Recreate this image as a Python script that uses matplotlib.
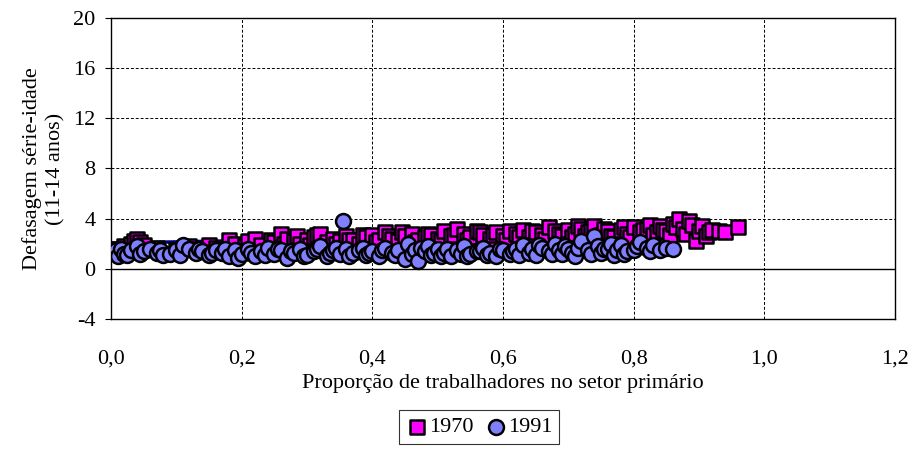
import matplotlib.pyplot as plt
import matplotlib.ticker as mticker

# --- data ---
x_1970 = [0.01, 0.015, 0.02, 0.03, 0.035, 0.04, 0.045, 0.05, 0.07, 0.10, 0.12, 0.13, 0.15, 0.16,
          0.17, 0.18, 0.19, 0.205, 0.21, 0.22, 0.23, 0.245, 0.25, 0.26, 0.265, 0.27, 0.28, 0.285,
          0.29, 0.30, 0.305, 0.31, 0.315, 0.32, 0.33, 0.34, 0.345, 0.35, 0.36, 0.365, 0.37, 0.38,
          0.385, 0.39, 0.40, 0.405, 0.41, 0.42, 0.425, 0.43, 0.44, 0.445, 0.45, 0.46, 0.465, 0.47,
          0.48, 0.485, 0.49, 0.50, 0.505, 0.51, 0.52, 0.525, 0.53, 0.54, 0.545, 0.55, 0.56, 0.565,
          0.57, 0.58, 0.585, 0.59, 0.60, 0.605, 0.61, 0.62, 0.625, 0.63, 0.64, 0.645, 0.65, 0.66,
          0.665, 0.67, 0.68, 0.685, 0.69, 0.70, 0.705, 0.71, 0.715, 0.72, 0.725, 0.73, 0.735, 0.74,
          0.75, 0.755, 0.76, 0.765, 0.77, 0.78, 0.785, 0.79, 0.795, 0.80, 0.81, 0.815, 0.82, 0.825,
          0.83, 0.835, 0.84, 0.845, 0.85, 0.855, 0.86, 0.865, 0.87, 0.875, 0.88, 0.885, 0.89, 0.895,
          0.90, 0.905, 0.91, 0.915, 0.92, 0.93, 0.94, 0.96]
y_1970 = [1.6, 1.4, 1.8, 2.0, 2.2, 2.4, 2.1, 1.9, 1.7, 1.5, 1.8, 1.6, 1.9, 1.7,
          1.5, 2.3, 2.0, 1.8, 2.2, 2.4, 1.9, 2.3, 2.1, 2.8, 2.0, 2.4, 2.2, 2.6,
          2.0, 2.3, 1.9, 2.5, 2.7, 2.8, 2.1, 2.4, 2.0, 2.2, 2.6, 2.3, 2.3, 2.0,
          2.7, 2.5, 2.7, 2.1, 2.3, 2.9, 2.6, 2.4, 2.2, 2.9, 2.6, 2.8, 2.1, 2.3,
          2.5, 2.8, 2.7, 2.4, 2.2, 3.0, 2.6, 2.7, 3.2, 2.8, 2.3, 2.5, 3.0, 2.9,
          2.7, 2.4, 2.7, 2.9, 2.6, 2.3, 3.0, 2.8, 2.5, 3.1, 2.5, 3.0, 2.9, 2.7,
          2.4, 3.3, 3.0, 2.8, 2.6, 3.1, 2.5, 2.8, 3.4, 3.2, 2.6, 2.9, 3.0, 3.4,
          2.7, 3.2, 3.0, 2.6, 2.5, 3.1, 3.3, 2.8, 2.5, 3.3, 2.9, 3.1, 3.2, 3.5,
          2.7, 2.9, 3.4, 3.1, 3.0, 2.7, 3.6, 3.3, 4.0, 3.2, 2.8, 3.8, 3.5, 2.2,
          3.0, 3.4, 2.6, 2.9, 3.1, 3.0, 2.9, 3.3]

x_1991 = [0.005, 0.008, 0.01, 0.015, 0.02, 0.025, 0.03, 0.04, 0.045, 0.05, 0.06, 0.07, 0.075,
          0.08, 0.09, 0.10, 0.105, 0.11, 0.12, 0.13, 0.135, 0.14, 0.15, 0.155, 0.16, 0.17, 0.175,
          0.18, 0.19, 0.195, 0.20, 0.21, 0.215, 0.22, 0.23, 0.235, 0.24, 0.25, 0.255, 0.26, 0.27,
          0.275, 0.28, 0.29, 0.295, 0.30, 0.31, 0.315, 0.32, 0.33, 0.335, 0.34, 0.345, 0.35, 0.355,
          0.36, 0.365, 0.37, 0.38, 0.385, 0.39, 0.395, 0.40, 0.41, 0.415, 0.42, 0.43, 0.435, 0.44,
          0.45, 0.455, 0.46, 0.465, 0.47, 0.475, 0.48, 0.485, 0.49, 0.495, 0.50, 0.505, 0.51, 0.515,
          0.52, 0.53, 0.535, 0.54, 0.545, 0.55, 0.56, 0.565, 0.57, 0.575, 0.58, 0.59, 0.595, 0.60,
          0.61, 0.615, 0.62, 0.625, 0.63, 0.64, 0.645, 0.65, 0.655, 0.66, 0.67, 0.675, 0.68, 0.685,
          0.69, 0.695, 0.70, 0.705, 0.71, 0.715, 0.72, 0.73, 0.735, 0.74, 0.745, 0.75, 0.755, 0.76,
          0.765, 0.77, 0.775, 0.78, 0.785, 0.79, 0.80, 0.805, 0.81, 0.82, 0.825, 0.83, 0.84, 0.85,
          0.86]
y_1991 = [1.3, 1.5, 1.0, 1.6, 1.2, 1.1, 1.5, 1.8, 1.2, 1.4, 1.6, 1.3, 1.5,
          1.1, 1.2, 1.5, 1.1, 1.9, 1.6, 1.3, 1.6, 1.4, 1.1, 1.3, 1.5, 1.3, 1.6,
          1.0, 1.5, 0.9, 1.2, 1.6, 1.3, 1.0, 1.4, 1.1, 1.7, 1.2, 1.6, 1.5, 0.9,
          1.4, 1.3, 1.6, 1.0, 1.1, 1.4, 1.6, 1.8, 1.0, 1.3, 1.5, 1.7, 1.2, 3.8,
          1.6, 1.0, 1.3, 1.5, 1.7, 1.1, 1.3, 1.4, 1.0, 1.5, 1.7, 1.3, 1.1, 1.5,
          0.8, 2.0, 1.2, 1.5, 0.6, 1.7, 1.4, 1.8, 1.1, 1.3, 1.6, 1.0, 1.3, 1.6,
          1.0, 1.5, 1.2, 1.8, 1.0, 1.2, 1.4, 1.4, 1.7, 1.1, 1.3, 1.0, 1.6, 1.5,
          1.2, 1.4, 1.6, 1.1, 1.9, 1.3, 1.6, 1.1, 1.9, 1.7, 1.4, 1.2, 2.0, 1.5,
          1.2, 1.8, 1.6, 1.3, 1.0, 1.7, 2.2, 1.5, 1.2, 2.6, 1.8, 1.3, 1.6, 1.6,
          2.0, 1.1, 1.5, 1.9, 1.2, 1.4, 1.5, 1.8, 2.1, 1.7, 1.4, 1.9, 1.5, 1.7,
          1.6]

# trend lines (mostly hidden behind the markers)
trend_x = [0.0, 0.96]
trend_1970 = [2.05, 3.0]
trend_x91 = [0.0, 0.86]
trend_1991 = [1.15, 1.75]

plt.rcParams['font.family'] = 'Liberation Serif'
plt.rcParams['font.size'] = 16
plt.rcParams['axes.unicode_minus'] = False

fig = plt.figure(figsize=(9.13, 4.53), dpi=100)
ax = fig.add_axes([0.1216, 0.2958, 0.8587, 0.6645])

ax.plot(trend_x, trend_1970, color='#000080', lw=2.5, zorder=2)
ax.plot(trend_x91, trend_1991, color='#00e0e0', lw=2.5, zorder=2)
ax.scatter(x_1970, y_1970, marker='s', s=110, facecolor='#ff00ff', edgecolor='black',
           linewidths=1.8, zorder=3, label='1970')
ax.scatter(x_1991, y_1991, marker='o', s=115, facecolor='#8080ff', edgecolor='black',
           linewidths=1.8, zorder=4, label='1991')

ax.set_xlim(0, 1.2)
ax.set_ylim(-4, 20)
ax.set_xticks([0, 0.2, 0.4, 0.6, 0.8, 1.0, 1.2])
ax.set_yticks([-4, 0, 4, 8, 12, 16, 20])
ax.xaxis.set_major_formatter(mticker.FuncFormatter(lambda v, p: f'{v:.1f}'.replace('.', ',')))
ax.grid(True, color='black', linestyle=(0, (3, 2)), lw=0.7, zorder=1)
ax.axhline(0, color='black', lw=1.0, zorder=1.5)
ax.tick_params(axis='x', length=0, pad=22)
ax.tick_params(axis='y', length=4, direction='out', pad=7)
for sp in ax.spines.values():
    sp.set_linewidth(1.0)

ax.set_xlabel('Proporção de trabalhadores no setor primário', labelpad=4)
ax.set_ylabel('Defasagem série-idade\n(11-14 anos)', labelpad=6, linespacing=1.25)

leg = fig.legend(loc='center', bbox_to_anchor=(0.525, 0.057), ncol=2, frameon=True,
                 fancybox=False, edgecolor='black', handletextpad=0.05, columnspacing=0.5,
                 borderpad=0.3, handlelength=1.0, borderaxespad=0)
leg.get_frame().set_linewidth(0.8)

fig.savefig('out.png', dpi=100)
